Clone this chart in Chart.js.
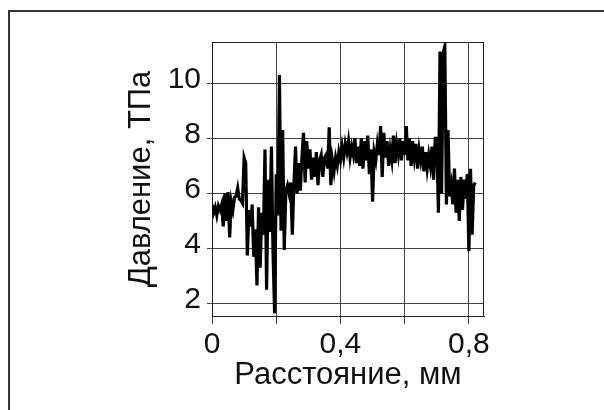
<!DOCTYPE html>
<html>
<head>
<meta charset="utf-8">
<script src="https://cdn.jsdelivr.net/npm/chart.js@4/dist/chart.umd.min.js"></script>
<style>
    body { margin: 0; background: #fff; }
    #wrap { position: relative; width: 604px; height: 410px; }
    #frame { position: absolute; left: 8px; top: 10px; right: 0; bottom: 0; border-top: 2px solid #333; border-left: 2px solid #333; }
    canvas { position: absolute; left: 0; top: 0; }
</style>
</head>
<body>
<div id="wrap">
    <div id="frame"></div>
    <canvas id="profileChart" width="604" height="410"></canvas>
</div>
<script>
// distance along the sample, mm
const distance = [
    0, 0.005, 0.01, 0.015, 0.02, 0.025, 0.03, 0.035, 0.04, 0.045,
    0.05, 0.055, 0.06, 0.065, 0.07, 0.075, 0.08, 0.085, 0.09, 0.095,
    0.1, 0.105, 0.11, 0.115, 0.12, 0.125, 0.13, 0.135, 0.14, 0.145,
    0.15, 0.155, 0.16, 0.165, 0.17, 0.175, 0.18, 0.185, 0.19, 0.195,
    0.2, 0.205, 0.21, 0.215, 0.22, 0.225, 0.23, 0.235, 0.24, 0.245,
    0.25, 0.255, 0.26, 0.265, 0.27, 0.275, 0.28, 0.285, 0.29, 0.295,
    0.3, 0.305, 0.31, 0.315, 0.32, 0.325, 0.33, 0.335, 0.34, 0.345,
    0.35, 0.355, 0.36, 0.365, 0.37, 0.375, 0.38, 0.385, 0.39, 0.395,
    0.4, 0.405, 0.41, 0.415, 0.42, 0.425, 0.43, 0.435, 0.44, 0.445,
    0.45, 0.455, 0.46, 0.465, 0.47, 0.475, 0.48, 0.485, 0.49, 0.495,
    0.5, 0.505, 0.51, 0.515, 0.52, 0.525, 0.53, 0.535, 0.54, 0.545,
    0.55, 0.555, 0.56, 0.565, 0.57, 0.575, 0.58, 0.585, 0.59, 0.595,
    0.6, 0.605, 0.61, 0.615, 0.62, 0.625, 0.63, 0.635, 0.64, 0.645,
    0.65, 0.655, 0.66, 0.665, 0.67, 0.675, 0.68, 0.685, 0.69, 0.695,
    0.7, 0.705, 0.71, 0.715, 0.72, 0.725, 0.73, 0.735, 0.74, 0.745,
    0.75, 0.755, 0.76, 0.765, 0.77, 0.775, 0.78, 0.785, 0.79, 0.795,
    0.8, 0.805, 0.81, 0.815, 0.82
];

// pressure, TPa
const pressure = [
    5.6, 5.3, 5.5, 5.2, 5.55, 5.4, 5.6, 4.8, 6.0, 5.0,
    6.05, 4.4, 5.7, 5.4, 5.85, 5.9, 6.2, 5.8, 5.75, 5.65,
    7.3, 7.1, 3.75, 5.4, 4.8, 5.6, 3.7, 4.7, 2.66, 5.5,
    3.3, 5.3, 4.5, 7.6, 2.5, 6.5, 4.6, 7.7, 3.9, 1.65,
    6.7, 5.2, 10.3, 4.65, 8.3, 3.95, 6.1, 6.3, 6.0, 6.4,
    4.5, 6.3, 7.7, 6.0, 7.1, 6.1, 7.3, 8.2, 6.4, 7.9,
    6.9, 7.6, 6.5, 7.3, 6.6, 7.5, 6.3, 7.2, 7.4, 6.6,
    7.3, 7.4, 6.9, 8.4, 6.3, 7.2, 6.8, 7.3, 7.0, 7.5,
    7.2, 7.7, 7.3, 7.8, 7.5, 7.9, 7.3, 7.7, 7.4, 8.0,
    7.1, 7.7, 7.0, 8.0, 6.9, 7.9, 7.2, 8.1, 6.7, 7.6,
    5.7, 7.5, 7.2, 7.8, 7.4, 8.45, 6.6, 8.2, 7.3, 7.9,
    7.0, 7.6, 7.2, 8.1, 7.1, 7.8, 7.4, 8.0, 7.2, 7.9,
    7.4, 8.45, 7.2, 8.0, 7.0, 7.9, 7.3, 7.8, 6.9, 7.6,
    7.2, 7.7, 6.8, 7.5, 6.9, 7.4, 7.0, 7.7, 6.5, 8.0,
    8.0, 5.3, 11.15, 6.0, 11.1, 11.35, 5.6, 8.3, 5.9, 6.3,
    5.6, 6.9, 5.3, 6.5, 5.0, 6.6, 5.4, 6.5, 5.8, 6.7,
    3.9, 6.9, 4.5, 6.3, 6.4
];

const xTickLabels = ['0', '0,4', '0,8'];
const yTickValues = [2, 4, 6, 8, 10];

const points = distance.map((d, i) => ({ x: d, y: pressure[i] }));

// box around the plot area (top and right edges are not drawn by the scales)
const plotFrame = {
    id: 'plotFrame',
    beforeDatasetsDraw(chart) {
        const { ctx, chartArea: a } = chart;
        ctx.save();
        ctx.strokeStyle = '#222';
        ctx.lineWidth = 1;
        ctx.strokeRect(a.left + 0.5, a.top + 0.5, a.right - a.left - 1, a.bottom - a.top);
        ctx.restore();
    }
};

const tickFont = { family: '"Liberation Sans", Arial, sans-serif', size: 30 };
const titleFont = { family: '"Liberation Sans", Arial, sans-serif', size: 31 };

new Chart(document.getElementById('profileChart').getContext('2d'), {
    type: 'line',
    data: {
        datasets: [{
            data: points,
            borderColor: '#000',
            borderWidth: 3.2,
            pointRadius: 0,
            tension: 0,
            fill: false
        }]
    },
    options: {
        responsive: false,
        animation: false,
        layout: { padding: { left: 123, right: 120, top: 42, bottom: 16 } },
        plugins: { legend: { display: false }, tooltip: { enabled: false } },
        scales: {
            x: {
                type: 'linear',
                min: 0,
                max: 0.847,
                afterFit: (scale) => { scale.height = 78; },
                grid: { color: '#444', lineWidth: 1, tickLength: 8 },
                border: { color: '#222', width: 1 },
                ticks: {
                    stepSize: 0.2,
                    includeBounds: false,
                    autoSkip: false,
                    maxRotation: 0,
                    padding: 3,
                    color: '#111',
                    font: tickFont,
                    callback: (value) => {
                        const k = Math.round(value * 10);
                        return k % 4 === 0 ? xTickLabels[k / 4] : '';
                    }
                },
                title: { display: true, text: 'Расстояние, мм', color: '#111', font: titleFont, padding: 0 }
            },
            y: {
                type: 'linear',
                min: 1.55,
                max: 11.5,
                afterFit: (scale) => { scale.width = 89; },
                grid: { color: '#444', lineWidth: 1, tickLength: 5 },
                border: { color: '#222', width: 1 },
                ticks: {
                    stepSize: 2,
                    includeBounds: false,
                    padding: 6,
                    labelOffset: -4,
                    color: '#111',
                    font: tickFont,
                    callback: (value) => yTickValues.includes(Math.round(value)) ? String(Math.round(value)) : ''
                },
                title: { display: true, text: 'Давление, ТПа', color: '#111', font: titleFont, padding: 0 }
            }
        }
    },
    plugins: [plotFrame]
});
</script>
</body>
</html>
